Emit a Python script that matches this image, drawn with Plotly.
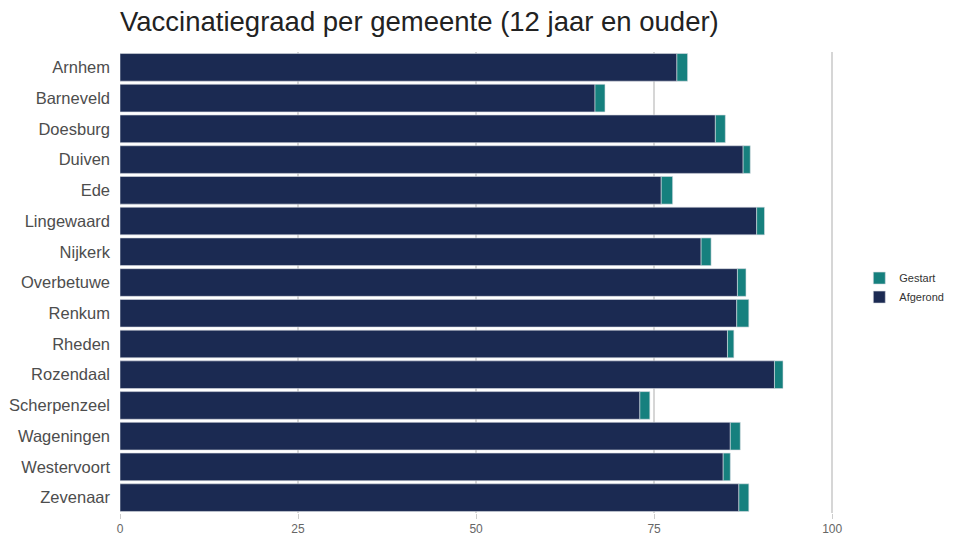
import numpy as np
import plotly.graph_objects as go

## Data (percentages)

gemeenten = ['Arnhem', 'Barneveld', 'Doesburg', 'Duiven', 'Ede', 'Lingewaard', 'Nijkerk',
             'Overbetuwe', 'Renkum', 'Rheden', 'Rozendaal', 'Scherpenzeel', 'Wageningen',
             'Westervoort', 'Zevenaar']
afgerond = [78.2, 66.7, 83.6, 87.5, 76.0, 89.4, 81.6, 86.7, 86.6, 85.3, 91.9, 73.0, 85.7, 84.7, 86.9]
gestart = [79.7, 68.1, 85.0, 88.5, 77.6, 90.5, 83.0, 87.9, 88.3, 86.2, 93.1, 74.4, 87.1, 85.7, 88.3]
x_ticks = [0, 25, 50, 75, 100]

navy = '#1b2a52'
teal = '#16807e'

# gestart is the share with at least one dose, the bar shows the extra part on top of afgerond
extra = np.array(gestart) - np.array(afgerond)

fig = go.Figure()

fig.add_trace(go.Bar(
    y = gemeenten, x = afgerond, orientation = 'h', name = 'Afgerond',
    marker = dict(color = navy, line = dict(color = '#d9dbe2', width = 0.6))
))
fig.add_trace(go.Bar(
    y = gemeenten, x = extra, base = afgerond, orientation = 'h', name = 'Gestart',
    marker = dict(color = teal, line = dict(color = '#d9dbe2', width = 0.6))
))

fig.update_layout(
    width = 956, height = 539,
    barmode = 'overlay', bargap = 0.1,
    plot_bgcolor = 'white', paper_bgcolor = 'white',
    margin = dict(l = 120, r = 121, t = 52, b = 26, autoexpand = False),
    font = dict(family = 'Liberation Sans, Arial, sans-serif', color = '#4d4d4d'),
    title = dict(
        text = 'Vaccinatiegraad per gemeente (12 jaar en ouder)',
        x = 120 / 956, xanchor = 'left', y = 0.96, yanchor = 'middle',
        font = dict(size = 27.5, color = '#222222')
    ),
    legend = dict(
        x = 1.034, xanchor = 'left', y = 0.489, yanchor = 'middle',
        traceorder = 'reversed', font = dict(size = 11, color = '#333333'),
        tracegroupgap = 0
    ),
    showlegend = True
)

fig.update_xaxes(
    range = [0, 100.4], tickvals = x_ticks, ticktext = [str(t) for t in x_ticks],
    showgrid = True, gridcolor = '#d6d6d6', gridwidth = 1.5,
    zeroline = False, showline = False,
    ticks = 'outside', ticklen = 5, tickcolor = '#cccccc',
    tickfont = dict(size = 12, color = '#666666')
)
fig.update_yaxes(
    autorange = 'reversed', showgrid = False, zeroline = False,
    ticks = '', ticklabelstandoff = 9,
    tickfont = dict(size = 16.5, color = '#4d4d4d')
)

# drop the default page margin so the figure sits at the window's corner
fig.write_html("out.html", config = {'displayModeBar': False},
               post_script = "document.body.style.margin = '0';")
